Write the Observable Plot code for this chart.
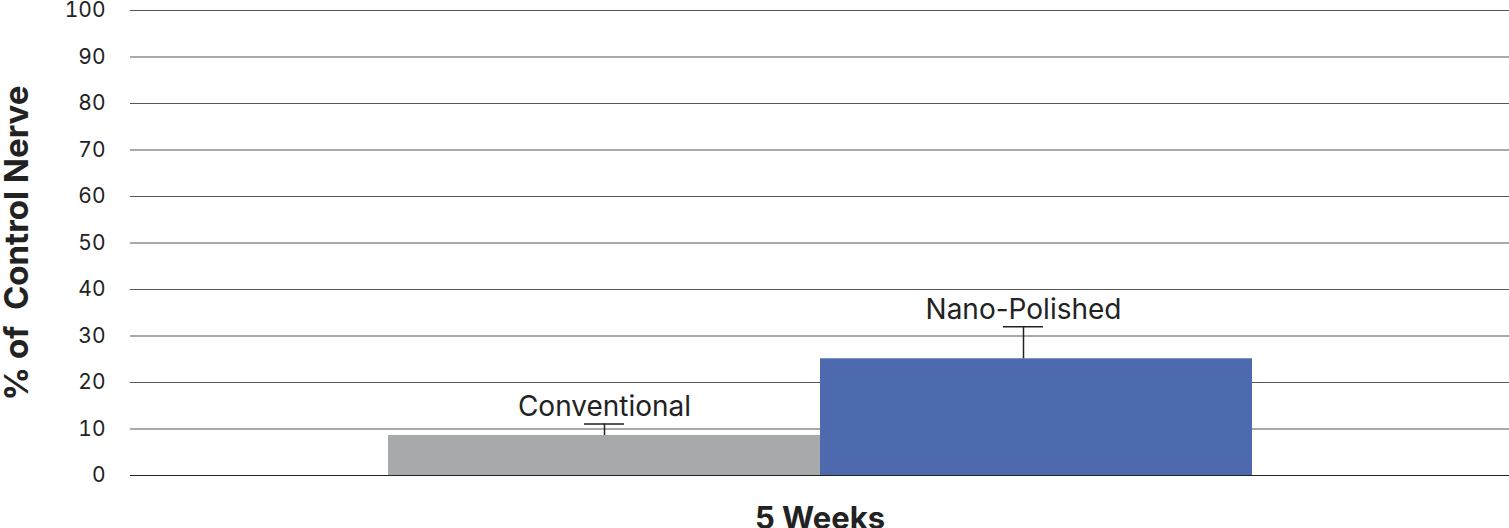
<!DOCTYPE html>
<html>
<head>
<meta charset="utf-8">
<script src="https://cdn.jsdelivr.net/npm/d3@7"></script>
<script src="https://cdn.jsdelivr.net/npm/@observablehq/plot@0.6"></script>
<style>
  html, body { margin: 0; padding: 0; background: #fff; }
  #chart svg { display: block; }
</style>
</head>
<body>
<div id="chart"></div>
<script>
const categories = ["Conventional", "Nano-Polished"];
const values = [8.6, 25.1];
const errorTops = [11.1, 32.0];
const yTicks = [0, 10, 20, 30, 40, 50, 60, 70, 80, 90, 100];
const groupLabel = "5 Weeks";
const yLabel = "% of\u00a0 Control Nerve";
const colors = ["#a7a9aa", "#4e6aae"];

const data = categories.map((c, i) => ({name: c, value: values[i], hi: errorTops[i]}));
const conv = data.filter(d => d.name === "Conventional");
const nano = data.filter(d => d.name === "Nano-Polished");

const font = "Inter, Roboto, sans-serif";

function errMarks(rows, shift) {
  return [
    Plot.ruleX(rows, {x: "name", y1: "value", y2: "hi", stroke: "#222", strokeWidth: 1.5, dx: shift}),
    Plot.tickY(rows, {x: "name", y: "hi", stroke: "#222", strokeWidth: 1.5, insetLeft: 196, insetRight: 196, dx: shift}),
    Plot.text(rows, {x: "name", y: "hi", text: "name", lineAnchor: "bottom", dy: -8, dx: shift,
      fontSize: 28, fill: "#222", fontFamily: font})
  ];
}

const chart = Plot.plot({
  width: 1509,
  height: 528,
  marginTop: 10,
  marginBottom: 53,
  marginLeft: 130,
  marginRight: 0,
  style: {fontFamily: font, background: "#fff"},
  x: {domain: categories, paddingInner: 0, paddingOuter: 0.596, axis: null},
  y: {domain: [0, 100], ticks: yTicks, axis: null},
  marks: [
    Plot.ruleY(yTicks, {stroke: "#555", strokeWidth: 1}),
    Plot.barY(data, {x: "name", y: "value", fill: (d) => colors[categories.indexOf(d.name)]}),
    Plot.ruleY([0], {stroke: "#222", strokeWidth: 1}),
    Plot.axisY({ticks: yTicks, tickSize: 0, tickPadding: 25, fontSize: 21, label: null, color: "#222"}),
    ...errMarks(conv, 0),
    ...errMarks(nano, -13),
    Plot.text([groupLabel], {frameAnchor: "bottom", lineAnchor: "bottom", dy: 53, fontSize: 31, fontWeight: "bold", fill: "#222", fontFamily: font}),
    Plot.text([yLabel], {frameAnchor: "left", textAnchor: "middle", lineAnchor: "middle", rotate: -90, dx: -113, fontSize: 33, fontWeight: "bold", fill: "#222", fontFamily: font})
  ]
});
document.getElementById("chart").appendChild(chart);
</script>
</body>
</html>
